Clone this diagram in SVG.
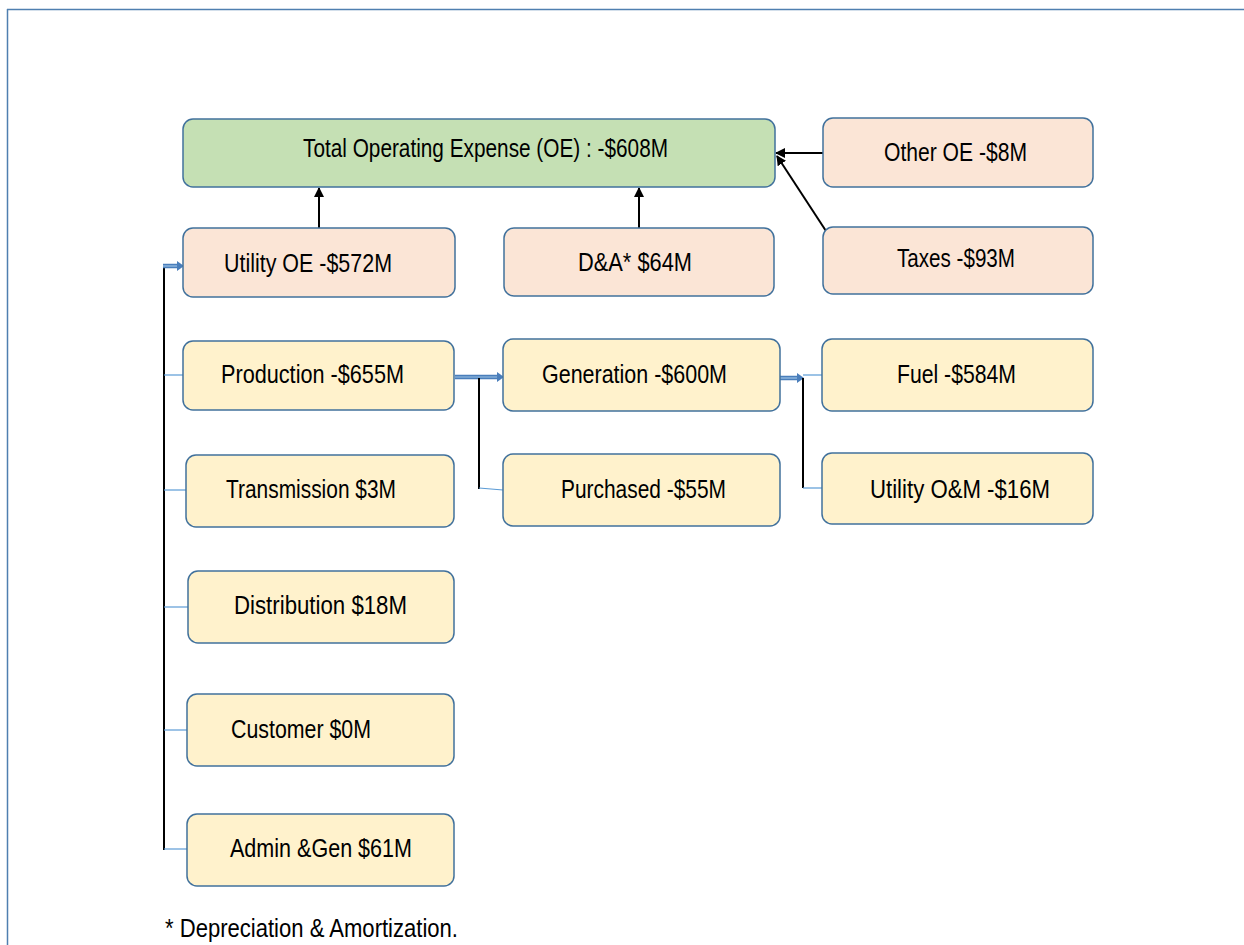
<svg xmlns="http://www.w3.org/2000/svg" width="1244" height="945" viewBox="0 0 1244 945">
<defs>
<style>
.box{stroke:#41719c;stroke-width:1.5}
.g{fill:#c5e0b4}
.p{fill:#fbe5d6}
.y{fill:#fff2cc}
.t{font-family:"Liberation Sans",Arial,sans-serif;font-size:26px;fill:#000}
.blk{stroke:#000;stroke-width:2;fill:none}
.thin{stroke:#5b9bd5;stroke-width:1.2;fill:none}
.thick{stroke:#4a7ebb;stroke-width:4.5;fill:none}
.thickin{stroke:#9dc3e6;stroke-width:1.2;fill:none}
</style>
<marker id="ah" markerWidth="10" markerHeight="10" refX="9" refY="5" orient="auto" markerUnits="userSpaceOnUse">
<path d="M0,0 L10,5 L0,10 Z" fill="#000"/>
</marker>
</defs>
<rect width="1244" height="945" fill="#fff"/>
<g id="border" stroke="#4f7fb0" stroke-width="1.5" fill="none">
<line x1="7" y1="9.5" x2="1244" y2="9.5"/>
<line x1="7.5" y1="9" x2="7.5" y2="945"/>
</g>
<g id="connectors">
<line class="blk" x1="319" y1="228" x2="319" y2="188" marker-end="url(#ah)"/>
<line class="blk" x1="639" y1="228" x2="639" y2="188" marker-end="url(#ah)"/>
<line class="blk" x1="823" y1="153" x2="776" y2="153" marker-end="url(#ah)"/>
<line class="blk" x1="826" y1="231" x2="777" y2="156" marker-end="url(#ah)"/>
<line class="blk" x1="164" y1="266" x2="164" y2="850"/>
<line class="thick" x1="163" y1="266" x2="178" y2="266"/>
<line class="thickin" x1="163" y1="266" x2="178" y2="266"/>
<path d="M177,261 L184,266 L177,271 Z" fill="#4a7ebb"/>
<line class="thin" x1="164" y1="375" x2="183" y2="375"/>
<line class="thin" x1="164" y1="490" x2="186" y2="490"/>
<line class="thin" x1="164" y1="607" x2="188" y2="607"/>
<line class="thin" x1="164" y1="730" x2="187" y2="730"/>
<line class="thin" x1="164" y1="849" x2="187" y2="849"/>
<line class="thick" x1="455" y1="377" x2="498" y2="377"/>
<line class="thickin" x1="455" y1="377" x2="498" y2="377"/>
<path d="M497,372 L504,377 L497,382 Z" fill="#4a7ebb"/>
<line class="blk" x1="479" y1="378" x2="479" y2="489"/>
<line class="thin" x1="479" y1="488" x2="503" y2="490"/>
<line class="thick" x1="780" y1="378" x2="798" y2="378"/>
<line class="thickin" x1="780" y1="378" x2="798" y2="378"/>
<path d="M797,373 L804,378 L797,383 Z" fill="#4a7ebb"/>
<line class="blk" x1="803" y1="378" x2="803" y2="488"/>
<line class="thin" x1="803" y1="375" x2="823" y2="375"/>
<line class="thin" x1="803" y1="488" x2="823" y2="488"/>
</g>
<g id="n-total"><rect class="box g" x="183" y="119" width="592" height="68" rx="10"/><text class="t" x="303" y="157" textLength="365" lengthAdjust="spacingAndGlyphs">Total Operating Expense (OE) : -$608M</text></g>
<g id="n-other"><rect class="box p" x="823" y="118" width="270" height="69" rx="10"/><text class="t" x="884" y="161" textLength="143" lengthAdjust="spacingAndGlyphs">Other OE -$8M</text></g>
<g id="n-utility"><rect class="box p" x="183" y="228" width="272" height="69" rx="10"/><text class="t" x="224" y="272" textLength="168" lengthAdjust="spacingAndGlyphs">Utility OE -$572M</text></g>
<g id="n-da"><rect class="box p" x="504" y="228" width="270" height="68" rx="10"/><text class="t" x="578" y="271" textLength="114" lengthAdjust="spacingAndGlyphs">D&amp;A* $64M</text></g>
<g id="n-taxes"><rect class="box p" x="823" y="227" width="270" height="67" rx="10"/><text class="t" x="897" y="267" textLength="118" lengthAdjust="spacingAndGlyphs">Taxes -$93M</text></g>
<g id="n-production"><rect class="box y" x="183" y="341" width="271" height="69" rx="10"/><text class="t" x="221" y="383" textLength="183" lengthAdjust="spacingAndGlyphs">Production -$655M</text></g>
<g id="n-generation"><rect class="box y" x="503" y="339" width="277" height="72" rx="10"/><text class="t" x="542" y="383" textLength="185" lengthAdjust="spacingAndGlyphs">Generation -$600M</text></g>
<g id="n-fuel"><rect class="box y" x="822" y="339" width="271" height="72" rx="10"/><text class="t" x="897" y="383" textLength="119" lengthAdjust="spacingAndGlyphs">Fuel -$584M</text></g>
<g id="n-transmission"><rect class="box y" x="186" y="455" width="268" height="72" rx="10"/><text class="t" x="226" y="498" textLength="170" lengthAdjust="spacingAndGlyphs">Transmission $3M</text></g>
<g id="n-purchased"><rect class="box y" x="503" y="454" width="277" height="72" rx="10"/><text class="t" x="561" y="498" textLength="165" lengthAdjust="spacingAndGlyphs">Purchased -$55M</text></g>
<g id="n-uom"><rect class="box y" x="822" y="453" width="271" height="71" rx="10"/><text class="t" x="870" y="498" textLength="180" lengthAdjust="spacingAndGlyphs">Utility O&amp;M -$16M</text></g>
<g id="n-distribution"><rect class="box y" x="188" y="571" width="266" height="72" rx="10"/><text class="t" x="234" y="614" textLength="173" lengthAdjust="spacingAndGlyphs">Distribution $18M</text></g>
<g id="n-customer"><rect class="box y" x="187" y="694" width="267" height="72" rx="10"/><text class="t" x="231" y="738" textLength="140" lengthAdjust="spacingAndGlyphs">Customer $0M</text></g>
<g id="n-admin"><rect class="box y" x="187" y="814" width="267" height="72" rx="10"/><text class="t" x="230" y="857" textLength="182" lengthAdjust="spacingAndGlyphs">Admin &amp;Gen $61M</text></g>
<text id="footnote" class="t" x="165" y="937" textLength="293" lengthAdjust="spacingAndGlyphs">* Depreciation &amp; Amortization.</text>
</svg>
